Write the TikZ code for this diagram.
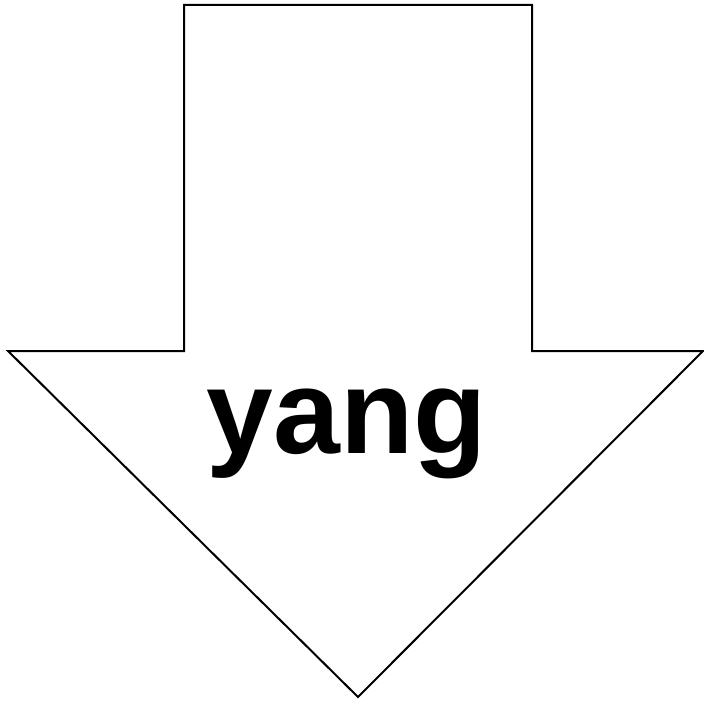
\documentclass[tikz,border=0pt]{standalone}
\usepackage{fontspec}
\setmainfont{Liberation Sans}
\usetikzlibrary{positioning}

\begin{document}
\begin{tikzpicture}[x=1pt, y=-1pt,
    bigarrow/.style={draw, line width=2pt, line join=miter, fill=white},
    word/.style={font=\bfseries\fontsize{120}{120}\selectfont, inner sep=0pt, anchor=base}]

    \useasboundingbox (0,0) rectangle (704,701);

    % down arrow
    \draw[bigarrow] (184,5) -- (532,5) -- (532,351) -- (703,351)
        -- (358,697) -- (8,351) -- (184,351) -- cycle;

    \node[word] (yang) at (347,453) {yang};
\end{tikzpicture}
\end{document}
